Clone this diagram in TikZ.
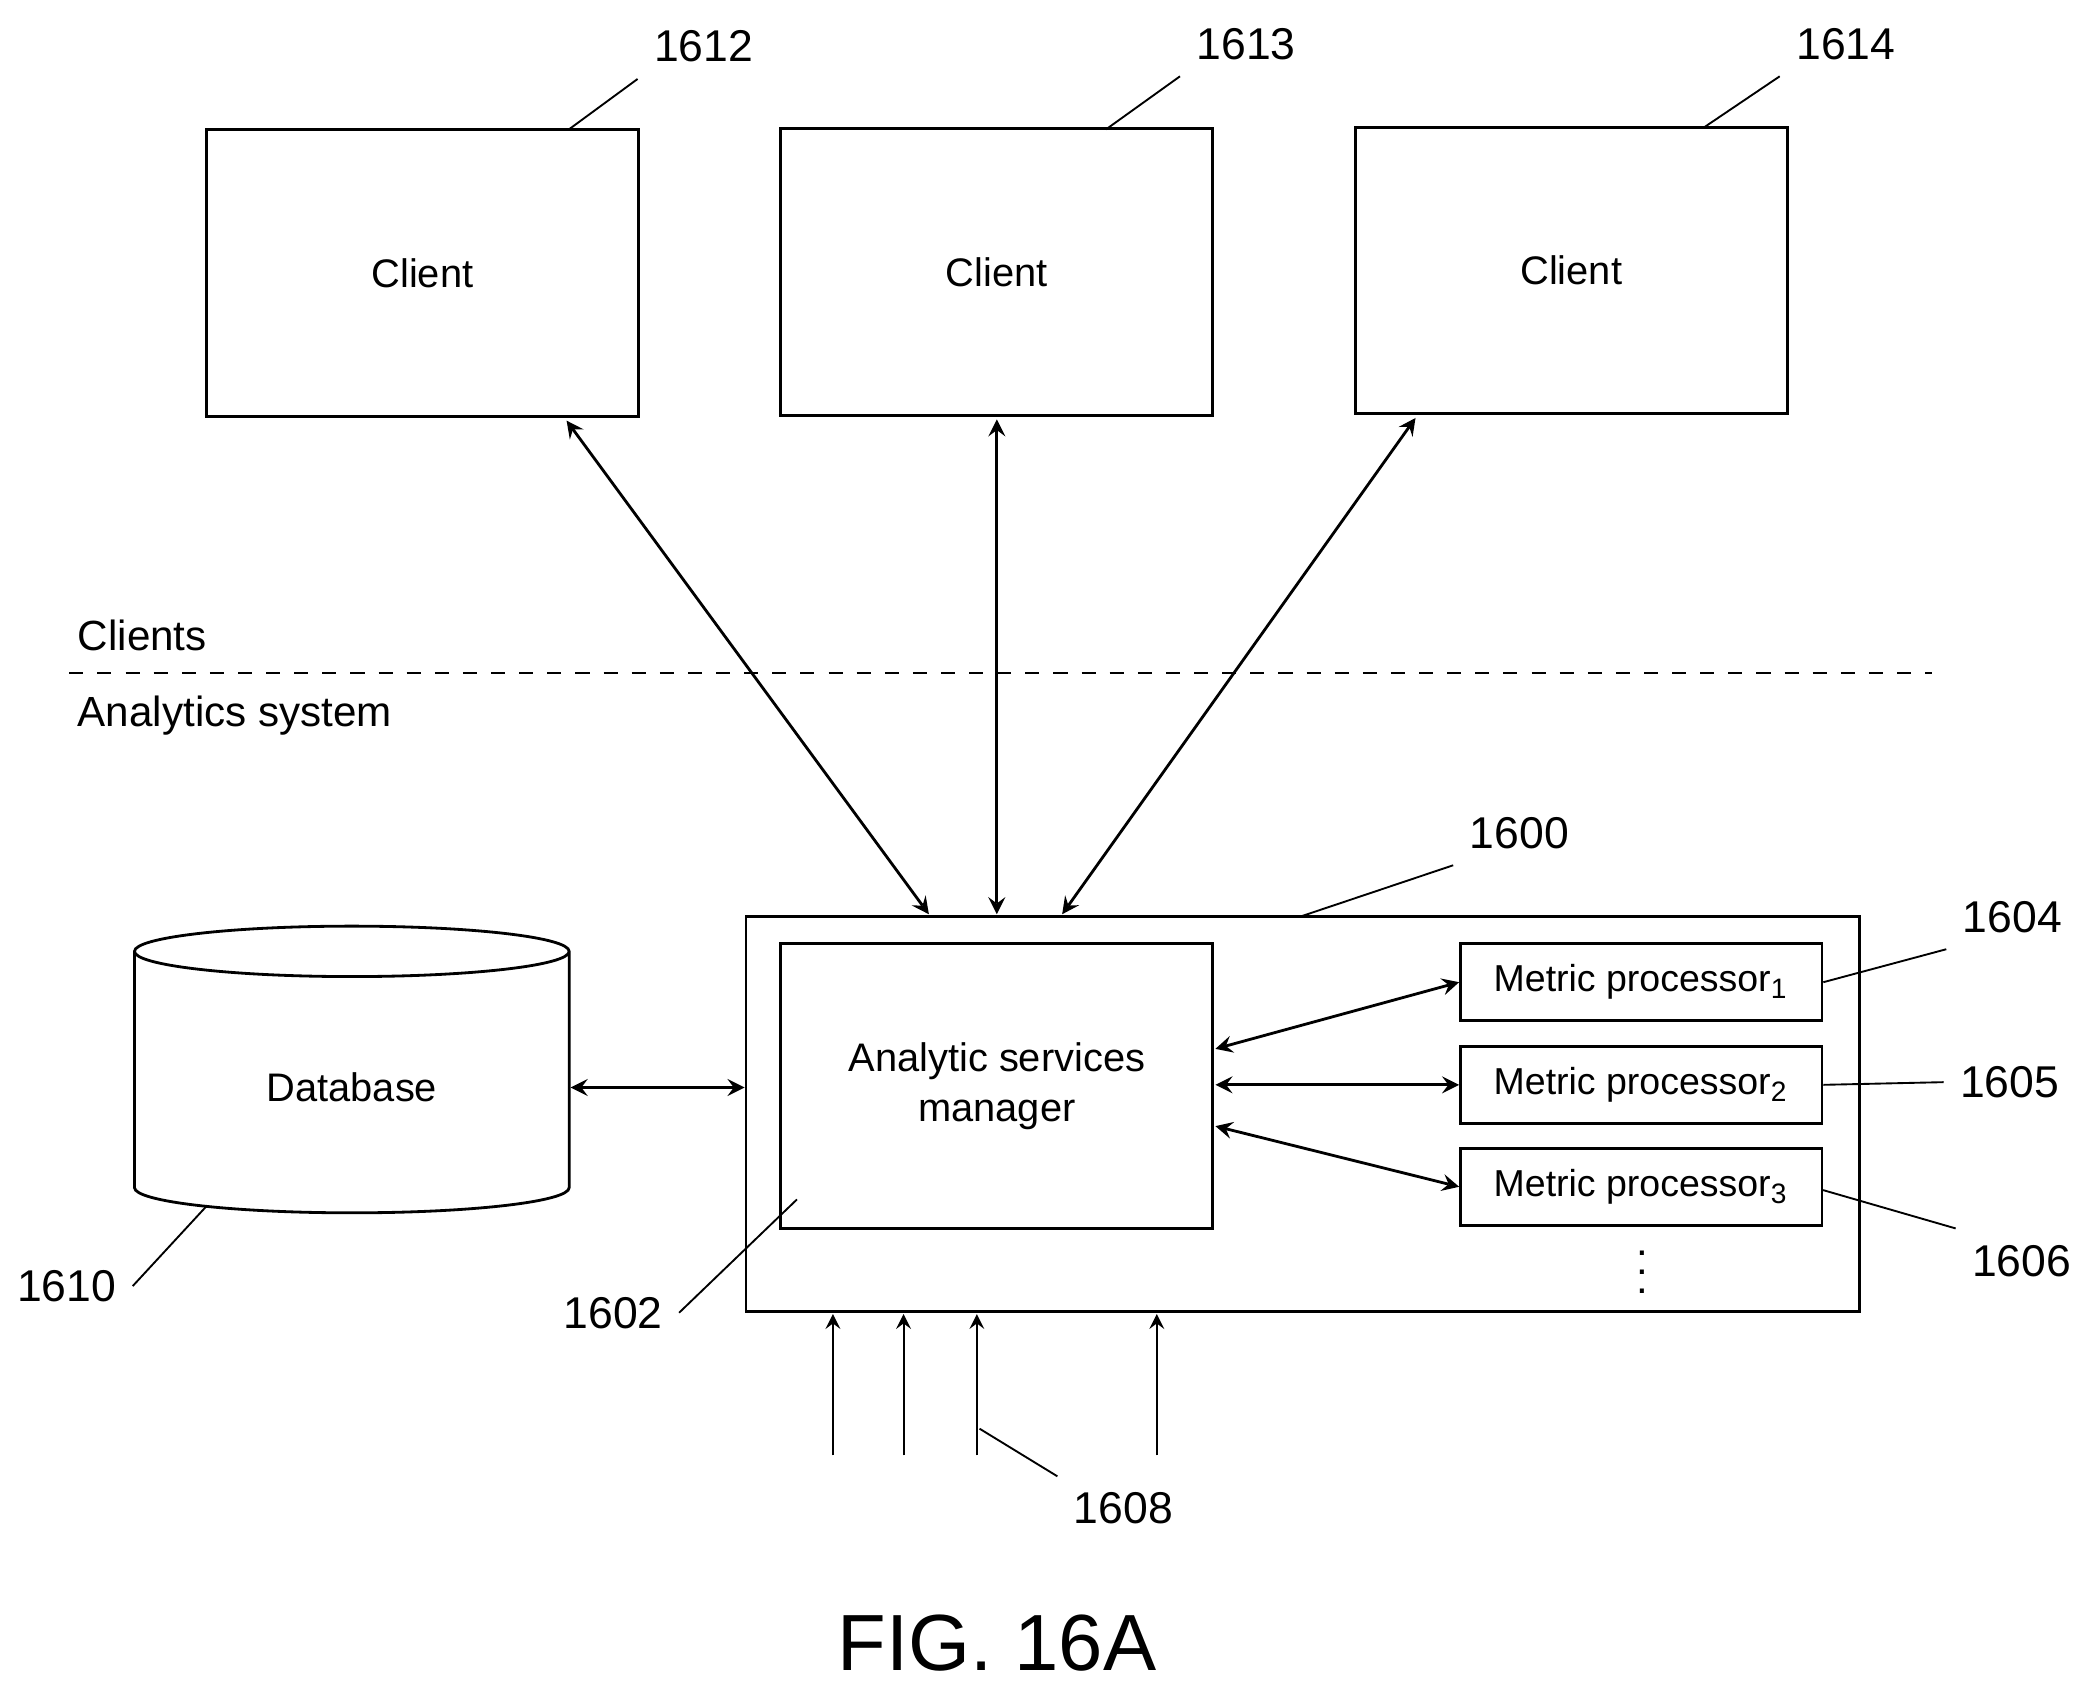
\documentclass[tikz,border=0pt]{standalone}
\usepackage{fontspec}
\setmainfont{Liberation Sans}
\usetikzlibrary{shapes.geometric,positioning}
\tikzset{
  box/.style={draw, semithick, minimum width=3.24cm, minimum height=2.15cm, font=\fontsize{8.5}{10.5}\selectfont},
  mp/.style={draw, semithick, minimum width=2.71cm, minimum height=0.58cm, font=\fontsize{8}{10}\selectfont},
  num/.style={font=\fontsize{9.5}{11}\selectfont},
  dbl/.style={semithick, <->, >=stealth},
  lead/.style={thin}
}
\begin{document}
\begin{tikzpicture}[x=0.01cm, y=-0.01cm]
  \useasboundingbox (0,0) rectangle (1560,1266);
  % clients
  \node[box] (C1) at (317,205) {Client};
  \node[box] (C2) at (748,204) {Client};
  \node[box] (C3) at (1179,203) {Client};
  \node[num] (N1612) at (528,35) {1612};
  \node[num] (N1613) at (935,33) {1613};
  \node[num] (N1614) at (1385,33) {1614};
  \draw[lead] (427,97) -- (N1612.south west);
  \draw[lead] (830,97) -- (N1613.south west);
  \draw[lead] (1278,96) -- (N1614.south west);
  % divider
  \node[anchor=west, font=\fontsize{9}{11}\selectfont] (CL) at (46,477) {Clients};
  \node[anchor=west, font=\fontsize{9}{11}\selectfont] (AS) at (46,537) {Analytics system};
  \draw[dashed] (52,505) -- (1450,505);
  % analytics system
  \node[draw, semithick, minimum width=8.35cm, minimum height=2.96cm] (SYS) at (977.5,836) {};
  \node[box, minimum height=2.14cm, align=center] (ASM) at (748,815) {Analytic services\\manager};
  \node[mp] (MP1) at (1231.5,737) {Metric processor\textsubscript{1}};
  \node[mp] (MP2) at (1231.5,814) {Metric processor\textsubscript{2}};
  \node[mp] (MP3) at (1231.5,890.5) {Metric processor\textsubscript{3}};
  \node[inner sep=0pt, font=\small] (DOTS) at (1232,944) {$\vdots$};
  \node[num] (N1600) at (1140,625) {1600};
  \node[num] (N1602) at (460,985) {1602};
  \node[num] (N1604) at (1510,688) {1604};
  \node[num] (N1605) at (1508,812) {1605};
  \node[num] (N1606) at (1517,946) {1606};
  \node[num] (N1608) at (843,1132) {1608};
  \node[num] (N1610) at (50,965) {1610};
  \draw[lead] (975,688) -- (N1600.south west);
  \draw[lead] (598,900) -- (N1602.east);
  \draw[lead] (MP1.east) -- (N1604.south west);
  \draw[lead] (MP2.east) -- (N1605.west);
  \draw[lead] (1368,893) -- (N1606.north west);
  \draw[lead] (735,1072) -- (N1608.north west);
  \draw[lead] (155,905) -- (N1610.east);
  % database
  \node[cylinder, shape border rotate=90, draw, semithick, minimum width=3.26cm, minimum height=2.15cm, aspect=0.25, font=\fontsize{8.5}{10.5}\selectfont] (DB) at (264,816) {Database};
  % connectors
  \draw[dbl] (C1.south east) ++(-55,2) coordinate (c1) -- (697,686);
  \draw[dbl] (C2.south) ++(0,2) -- (748,686);
  \draw[dbl] (C3.south east) ++(-280,2) -- (797,686);
  \draw[dbl] (DB.east) -- (DB.east -| SYS.west);
  \draw[dbl] (912,787) -- (MP1.west);
  \draw[dbl] (912,814) -- (MP2.west);
  \draw[dbl] (912,845) -- (MP3.west);
  \foreach \x in {625,678,733,868}
    \draw[->, >=stealth] (\x,1092) -- (\x,986);
  \node[font=\fontsize{17}{20}\selectfont] (FIG) at (748,1233) {FIG. 16A};
\end{tikzpicture}
\end{document}
